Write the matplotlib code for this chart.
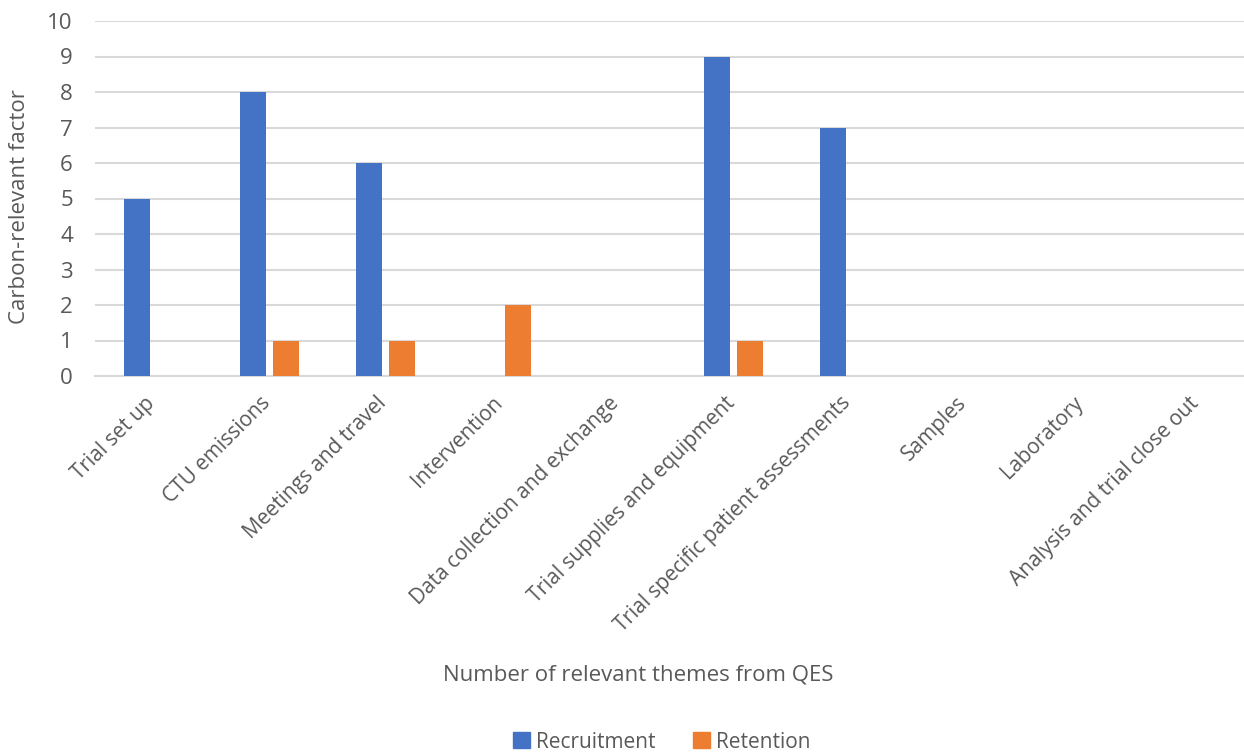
import numpy as np
import matplotlib
matplotlib.use('Agg')
import matplotlib.pyplot as plt
import matplotlib.transforms as mtransforms
from matplotlib.patches import Patch

# Data
categories = ['Trial set up', 'CTU emissions', 'Meetings and travel', 'Intervention',
              'Data collection and exchange', 'Trial supplies and equipment',
              'Trial specific patient assessments', 'Samples', 'Laboratory',
              'Analysis and trial close out']
recruitment = [5, 8, 6, 0, 0, 9, 7, 0, 0, 0]
retention = [0, 1, 1, 2, 0, 1, 0, 0, 0, 0]

blue = '#4472C4'
orange = '#ED7D31'
text_col = '#595959'
grid_col = '#D9D9D9'

plt.rcParams['font.family'] = ['Open Sans', 'DejaVu Sans']

fig = plt.figure(figsize=(12.44, 7.52), dpi=100)
ax = fig.add_axes([95 / 1244, 1 - 376 / 752, 1 - 95 / 1244, (376 - 21) / 752])

x = np.arange(len(categories))
w = 0.224
off = 0.142
ax.bar(x - off, recruitment, width=w, color=blue, zorder=3)
ax.bar(x + off, retention, width=w, color=orange, zorder=3)

ax.set_ylim(0, 10)
ax.set_xlim(-0.5, 9.4)
ax.set_yticks(range(0, 11))
ax.yaxis.grid(True, color=grid_col, linewidth=1.5, zorder=0)
ax.set_axisbelow(True)
for s in ['top', 'right', 'left']:
    ax.spines[s].set_visible(False)
ax.spines['bottom'].set_color(grid_col)
ax.spines['bottom'].set_linewidth(1.5)
ax.tick_params(axis='both', length=0, colors=text_col)
ax.tick_params(axis='y', pad=16, labelsize=16)

ax.set_xticks(x)
ax.set_xticklabels(categories, rotation=45, ha='right', va='top',
                   rotation_mode='anchor', color=text_col, fontsize=15)
ax.tick_params(axis='x', pad=12)
# nudge category labels a little to the left, like the original
shift = mtransforms.ScaledTranslation(-9 / 100, 0, fig.dpi_scale_trans)
for lbl in ax.get_xticklabels():
    lbl.set_transform(lbl.get_transform() + shift)

fig.text(638 / 1244, 1 - 675 / 752, 'Number of relevant themes from QES',
         ha='center', va='center', fontsize=16, color=text_col)
fig.text(20 / 1244, 1 - 207 / 752, 'Carbon-relevant factor', rotation=90,
         ha='center', va='center', fontsize=16, color=text_col)

handles = [Patch(color=blue, label='Recruitment'), Patch(color=orange, label='Retention')]
leg = fig.legend(handles=handles, loc='center', bbox_to_anchor=(662 / 1244, 1 - 742 / 752),
                 ncol=2, frameon=False, fontsize=15, handlelength=0.8, handleheight=0.8,
                 handletextpad=0.3, columnspacing=1.8)
for t in leg.get_texts():
    t.set_color(text_col)

fig.savefig('out.png', dpi=100)
